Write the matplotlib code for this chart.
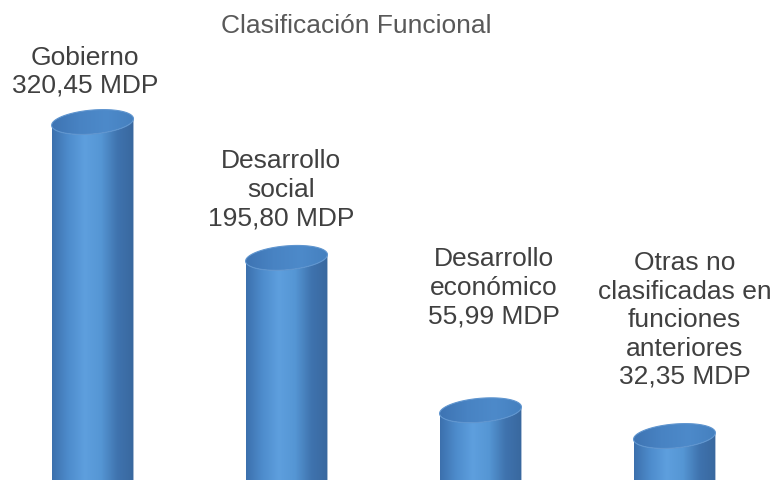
"""
Clasificación Funcional - cylinder bar chart
"""

import matplotlib as mpl
mpl.use('Agg')
import numpy as np
import matplotlib.pyplot as plt
from matplotlib.patches import Polygon
from matplotlib.colors import LinearSegmentedColormap

plt.rcParams['font.family'] = ['Liberation Sans', 'DejaVu Sans']

# Data
categories = ['Gobierno', 'Desarrollo\nsocial', 'Desarrollo\neconómico',
              'Otras no\nclasificadas en\nfunciones\nanteriores']
values     = [320.45, 195.80, 55.99, 32.35]
value_text = ['320,45 MDP', '195,80 MDP', '55,99 MDP', '32,35 MDP']
title      = 'Clasificación Funcional'

# Label placement (x offset in category units, last-line baseline in data units)
label_dx = [-0.039, -0.028, 0.067, 0.052]
label_y  = [347.1, 225.9, 136.0, 80.1]

#----------------------------------------------------------
fig = plt.figure(figsize=(7.73, 4.8), dpi=100)
ax = fig.add_axes([0, 0, 1, 1])
ax.set_xlim(-0.477, 3.508)
ax.set_ylim(-8.0, 432.4)
ax.axis('off')

body_cmap = LinearSegmentedColormap.from_list(
    'body', ['#3c70ad', '#4e8ccc', '#5e9fde', '#5596d4', '#3f73ae', '#39689e'])
top_cmap = LinearSegmentedColormap.from_list(
    'top', ['#3e74b3', '#4883c3', '#4d8aca', '#4580bf'])

a = 0.211     # half width (category units)
b = 11.0      # half height of the top ellipse (value units)
k = 3.0       # tilt of the top ellipse
gradient = np.linspace(0, 1, 256).reshape(1, -1)

for i, val in enumerate(values):
    x0, x1 = i - a, i + a
    ybot = -30
    # front half of the top ellipse
    t = np.linspace(np.pi, 2 * np.pi, 80)
    front = np.column_stack([i + a * np.cos(t), val + b * np.sin(t) + k * np.cos(t)])
    body = np.vstack([[x0, ybot], front, [x1, ybot]])
    body_patch = Polygon(body, closed=True, facecolor='none', edgecolor='none')
    ax.add_patch(body_patch)
    im = ax.imshow(gradient, cmap=body_cmap, aspect='auto',
                   extent=[x0, x1, ybot, val + b + k], zorder=2)
    im.set_clip_path(body_patch)

    # top ellipse
    t = np.linspace(0, 2 * np.pi, 160)
    top = np.column_stack([i + a * np.cos(t), val + b * np.sin(t) + k * np.cos(t)])
    top_patch = Polygon(top, closed=True, facecolor='none',
                        edgecolor='#5f95cf', linewidth=0.8, zorder=4)
    ax.add_patch(top_patch)
    im2 = ax.imshow(gradient, cmap=top_cmap, aspect='auto',
                    extent=[x0, x1, val - b - k, val + b + k], zorder=3)
    im2.set_clip_path(top_patch)

    # label
    ax.text(i + label_dx[i], label_y[i], categories[i] + '\n' + value_text[i],
            ha='center', va='baseline', fontsize=19, color='#404040',
            linespacing=1.23, multialignment='center', zorder=5)

fig.text(356 / 773, 1 - 33 / 480, title, ha='center', va='baseline',
         fontsize=19, color='#595959')

plt.savefig('out.png', dpi=100)
plt.close(fig)
